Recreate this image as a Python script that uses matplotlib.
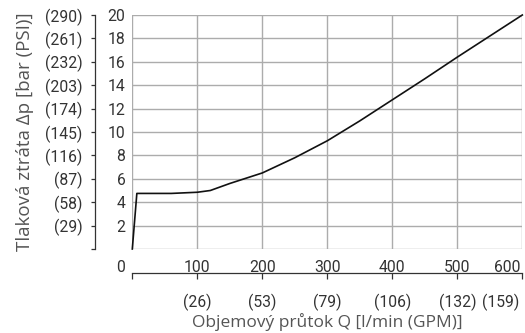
import numpy as np
import matplotlib
matplotlib.use('Agg')
import matplotlib.pyplot as plt
import matplotlib.transforms as mtrans

# data
flow = [0, 7, 60, 100, 120, 150, 200, 250, 300, 350, 400, 450, 500, 550, 600]       # l/min
dp = [0, 4.75, 4.75, 4.85, 5.0, 5.6, 6.5, 7.8, 9.25, 10.95, 12.75, 14.55, 16.4, 18.2, 20]  # bar

x_ticks = [0, 100, 200, 300, 400, 500, 600]
x_labels = ['0', '100', '200', '300', '400', '500', '600']
gpm_labels = ['', '(26)', '(53)', '(79)', '(106)', '(132)', '(159)']
y_ticks = [0, 2, 4, 6, 8, 10, 12, 14, 16, 18, 20]
bar_labels = ['', '2', '4', '6', '8', '10', '12', '14', '16', '18', '20']
psi_labels = ['', '(29)', '(58)', '(87)', '(116)', '(145)', '(174)', '(203)', '(232)', '(261)', '(290)']

num_font = ['Roboto', 'DejaVu Sans']
txt_font = ['Open Sans', 'DejaVu Sans']
nfs = 11.3
tc = '#333333'

W, H = 525, 333
fig = plt.figure(figsize=(W / 100, H / 100), dpi=100)

x0, x1 = 132.3, 522.3
y0, y1 = 249, 15
ax = fig.add_axes([x0 / W, 1 - y0 / H, (x1 - x0) / W, (y0 - y1) / H])
ax.set_xlim(0, 600)
ax.set_ylim(0, 20)
for v in x_ticks:
    ax.axvline(v, color='#acacac', lw=1.0, zorder=1)
for v in y_ticks:
    ax.axhline(v, color='#acacac', lw=1.0, zorder=1)
ax.plot(flow, dp, color='#111111', lw=1.2, zorder=3, clip_on=False)
for s in ax.spines.values():
    s.set_visible(False)

ax.set_yticks(y_ticks)
ax.set_yticklabels(bar_labels, fontfamily=num_font, fontsize=nfs, color=tc)
ax.tick_params(axis='y', length=0, pad=5)
ax.set_xticks(x_ticks)
ax.set_xticklabels(x_labels, fontfamily=num_font, fontsize=nfs, color=tc)
ax.tick_params(axis='x', length=0, pad=8)
xl = ax.get_xticklabels()
xl[0].set_ha('right')
xl[0].set_transform(xl[0].get_transform() + mtrans.ScaledTranslation(-7 / 100, 0, fig.dpi_scale_trans))
xl[-1].set_ha('right')
xl[-1].set_transform(xl[-1].get_transform() + mtrans.ScaledTranslation(-1.5 / 100, 0, fig.dpi_scale_trans))

# PSI scale on the left
psi_x = 95
axp = fig.add_axes([psi_x / W, 1 - y0 / H, 0.001, (y0 - y1) / H])
axp.set_ylim(0, 20)
axp.set_xticks([])
for k in ['top', 'right', 'bottom']:
    axp.spines[k].set_visible(False)
axp.spines['left'].set_color(tc)
axp.spines['left'].set_linewidth(0.9)
axp.set_yticks(y_ticks)
axp.set_yticklabels(psi_labels, fontfamily=num_font, fontsize=nfs, color=tc)
axp.tick_params(axis='y', length=3, width=0.9, color=tc, pad=6, direction='out')
axp.set_ylabel('Tlaková ztráta Δp [bar (PSI)]', fontfamily=txt_font, fontsize=13.5,
               color='#555555', labelpad=8)
axp.patch.set_visible(False)

# GPM scale at the bottom
gy = 273.3
axg = fig.add_axes([x0 / W, 1 - gy / H, (x1 - x0) / W, 0.001])
axg.set_xlim(0, 600)
axg.set_yticks([])
for k in ['top', 'right', 'left']:
    axg.spines[k].set_visible(False)
axg.spines['bottom'].set_color(tc)
axg.spines['bottom'].set_linewidth(0.9)
axg.set_xticks(x_ticks)
axg.set_xticklabels(gpm_labels, fontfamily=num_font, fontsize=nfs, color=tc)
axg.tick_params(axis='x', length=4, width=0.9, color=tc, pad=11, direction='out')
gl = axg.get_xticklabels()
gl[-1].set_ha('right')
gl[-1].set_transform(gl[-1].get_transform() + mtrans.ScaledTranslation(-3 / 100, 0, fig.dpi_scale_trans))
axg.set_xlabel('Objemový průtok Q [l/min (GPM)]', fontfamily=txt_font, fontsize=12.5,
               color='#555555', labelpad=1)
axg.patch.set_visible(False)

fig.savefig('out.png', dpi=100)
